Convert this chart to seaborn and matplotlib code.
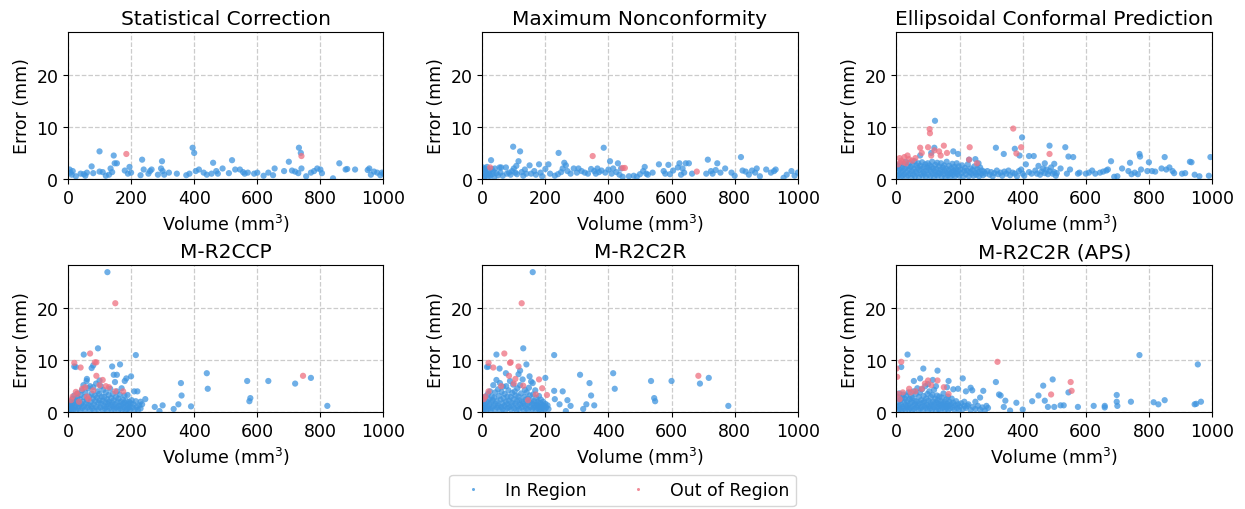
import matplotlib
matplotlib.use("Agg")
import matplotlib.pyplot as plt
import pandas as pd
import seaborn as sns

# ---- data (volume mm^3, error mm) ----
titles = ["Statistical Correction", "Maximum Nonconformity", "Ellipsoidal Conformal Prediction",
          "M-R2CCP", "M-R2C2R", "M-R2C2R (APS)"]

sc_in = [(5, 1.8), (8, 1.2), (12, 0.8), (15, 1.5), (25, 0.5), (40, 1.0), (50, 0.9), (55, 0.6), (60, 1.2),
         (75, 2.4), (80, 1.1), (100, 5.3), (100, 1.4), (110, 1.3), (120, 0.6), (130, 0.8), (135, 2.0),
         (140, 1.3), (145, 4.5), (148, 3.0), (155, 3.0), (180, 1.6), (190, 1.0), (195, 2.3), (200, 1.2),
         (230, 0.7), (235, 3.7), (240, 1.8), (255, 1.0), (260, 1.5), (265, 1.8), (285, 0.8), (295, 2.0),
         (298, 3.4), (300, 1.5), (305, 0.8), (320, 1.2), (345, 1.0), (375, 0.7), (385, 1.0), (395, 6.0),
         (400, 5.0), (405, 1.5), (415, 1.8), (430, 1.2), (440, 0.8), (455, 1.0), (460, 3.1), (470, 1.5),
         (475, 1.0), (490, 2.0), (510, 1.1), (520, 3.6), (530, 1.8), (545, 1.8), (555, 1.3), (560, 1.0),
         (570, 1.2), (590, 1.0), (600, 1.2), (620, 0.6), (635, 1.2), (650, 0.7), (655, 2.0), (685, 1.5),
         (700, 3.3), (710, 1.6), (720, 1.4), (730, 1.1), (732, 6.0), (738, 5.0), (740, 2.0), (755, 0.5),
         (770, 1.2), (780, 1.5), (790, 2.0), (800, 1.8), (805, 1.1), (840, 0.1), (860, 3.0), (880, 1.8),
         (885, 1.9), (910, 1.8), (950, 1.7), (955, 2.0), (960, 0.8), (970, 1.4), (980, 1.2), (990, 0.7),
         (995, 1.2), (1000, 1.0)]
sc_out = [(185, 4.8), (740, 4.4)]

mn_in = [(2, 2.2), (4, 1.0), (5, 0.3), (6, 1.8), (8, 0.5), (10, 2.0), (12, 1.2), (14, 0.8), (15, 2.3),
         (18, 0.4), (20, 1.6), (22, 1.0), (25, 0.6), (28, 3.6), (30, 1.9), (32, 0.9), (35, 1.4), (38, 0.3),
         (40, 2.0), (45, 1.1), (50, 0.7), (55, 2.2), (58, 1.2), (60, 2.2), (65, 0.6), (75, 2.2), (78, 1.0),
         (85, 1.2), (90, 0.8), (95, 1.5), (98, 6.2), (100, 2.0), (105, 1.2), (108, 2.5), (110, 0.9),
         (115, 3.4), (120, 5.3), (125, 1.3), (130, 0.6), (135, 1.8), (140, 1.0), (150, 2.6), (155, 1.0),
         (165, 1.5), (170, 0.8), (180, 2.8), (185, 1.2), (190, 0.5), (200, 1.9), (210, 2.8), (215, 1.0),
         (230, 0.6), (240, 0.9), (242, 5.0), (250, 1.3), (255, 2.0), (260, 3.1), (265, 2.6), (270, 1.5),
         (280, 1.0), (290, 2.0), (300, 1.2), (305, 2.0), (315, 1.5), (325, 1.2), (335, 1.0), (345, 1.9),
         (355, 1.5), (360, 1.0), (365, 2.0), (370, 1.3), (378, 1.6), (385, 6.0), (390, 1.2), (400, 1.8),
         (405, 3.4), (410, 1.0), (415, 2.0), (425, 1.3), (430, 3.0), (435, 0.8), (440, 2.0), (445, 0.4),
         (465, 0.5), (480, 0.6), (490, 0.4), (500, 0.9), (510, 1.5), (515, 2.3), (520, 1.0), (525, 0.8),
         (540, 1.2), (560, 2.8), (575, 1.5), (580, 1.0), (590, 2.7), (595, 0.9), (605, 1.6), (620, 2.2),
         (625, 3.0), (630, 0.8), (635, 2.0), (640, 1.2), (645, 3.0), (655, 3.0), (665, 1.0), (710, 1.0),
         (715, 3.7), (725, 1.5), (730, 1.0), (740, 1.7), (745, 3.0), (755, 1.2), (770, 2.0), (790, 1.2),
         (800, 0.6), (820, 4.2), (825, 1.6), (835, 1.4), (845, 0.8), (855, 1.6), (865, 1.2), (870, 2.0),
         (880, 0.5), (900, 1.8), (915, 1.2), (925, 1.5), (930, 1.8), (955, 0.2), (965, 0.8), (980, 1.5),
         (990, 0.6), (1000, 1.2)]
mn_out = [(25, 2.2), (350, 4.4), (445, 2.1), (452, 2.1), (680, 1.4)]

ecp_in = [(3, 0.5), (5, 1.5), (6, 2.5), (8, 0.8), (10, 1.9), (12, 3.0), (14, 0.3), (15, 1.2), (17, 2.2),
          (19, 0.6), (21, 1.6), (23, 2.8), (25, 0.9), (27, 2.0), (29, 3.3), (31, 0.4), (33, 1.3), (35, 2.4),
          (37, 0.7), (39, 1.8), (41, 3.1), (43, 1.0), (45, 2.3), (47, 0.2), (49, 1.5), (51, 2.7), (53, 0.8),
          (55, 1.9), (57, 3.4), (59, 0.5), (61, 1.4), (63, 2.6), (65, 1.0), (67, 2.1), (69, 3.0), (71, 0.3),
          (73, 1.7), (75, 2.5), (77, 0.9), (79, 1.9), (81, 3.2), (83, 0.6), (85, 1.3), (87, 2.3), (89, 1.0),
          (91, 2.8), (93, 0.4), (95, 1.6), (97, 2.2), (99, 3.0), (101, 0.8), (103, 1.8), (105, 2.6),
          (107, 0.5), (109, 1.4), (111, 2.3), (113, 3.3), (115, 1.0), (117, 2.0), (119, 0.3), (121, 1.5),
          (123, 2.7), (125, 0.8), (127, 1.9), (129, 3.1), (131, 0.6), (133, 1.2), (135, 2.4), (137, 1.0),
          (139, 1.8), (141, 3.0), (143, 0.4), (145, 1.4), (147, 2.2), (149, 0.9), (151, 2.6), (153, 1.5),
          (155, 0.3), (157, 2.0), (159, 3.3), (161, 1.1), (163, 0.7), (165, 1.7), (167, 2.5), (169, 1.0),
          (171, 0.4), (173, 2.0), (175, 1.3), (177, 2.9), (179, 0.8), (181, 1.6), (183, 2.3), (185, 0.5),
          (187, 1.2), (189, 1.9), (191, 3.0), (193, 0.9), (195, 1.5), (197, 2.4), (199, 0.6), (202, 1.8),
          (205, 1.1), (208, 2.6), (211, 0.4), (214, 1.5), (217, 2.1), (220, 0.9), (223, 1.6), (226, 2.8),
          (229, 0.5), (232, 1.3), (235, 2.0), (238, 1.0), (241, 1.7), (244, 0.6), (247, 2.4), (250, 1.2),
          (253, 0.8), (256, 1.9), (259, 1.3), (262, 0.5), (265, 2.2), (268, 1.0), (271, 1.6), (274, 0.7),
          (277, 1.4), (282, 1.0), (288, 1.5), (295, 0.8), (300, 1.3), (305, 0.5), (310, 1.1), (318, 1.6),
          (322, 0.9), (330, 1.2), (335, 0.6), (342, 1.4), (348, 1.0), (355, 1.6), (360, 0.7), (368, 1.2),
          (375, 1.0), (382, 0.5), (388, 1.5), (395, 1.8), (400, 1.0), (405, 0.6), (410, 2.8), (420, 1.3),
          (428, 1.0), (440, 1.6), (445, 1.0), (450, 2.5), (455, 0.8), (460, 1.4), (465, 2.0), (470, 1.1),
          (475, 1.8), (480, 0.9), (485, 1.5), (490, 2.2), (495, 1.0), (500, 1.3), (505, 0.6), (508, 1.1),
          (520, 2.0), (540, 1.0), (550, 1.8), (575, 1.0), (580, 1.2), (600, 1.0), (610, 1.2), (620, 1.6),
          (630, 1.0), (645, 1.2), (655, 1.4), (665, 1.6), (670, 1.8), (690, 0.4), (700, 0.5), (715, 2.0),
          (735, 1.5), (745, 0.9), (755, 1.2), (765, 0.9), (775, 1.8), (795, 1.5), (810, 1.5), (820, 1.4),
          (840, 2.0), (855, 1.8), (865, 2.2), (875, 1.5), (880, 1.1), (905, 1.0), (915, 1.1), (945, 0.8),
          (960, 0.5), (990, 0.6),
          (122, 11.2), (398, 8.0), (120, 6.0), (180, 5.3), (195, 4.8), (110, 5.0), (75, 4.5), (230, 3.7),
          (250, 3.8), (260, 3.0), (315, 6.0), (340, 4.8), (375, 5.8), (390, 4.5), (435, 4.4), (485, 6.4),
          (535, 6.1), (545, 4.3), (560, 4.2), (680, 3.4), (740, 3.1), (770, 4.8), (772, 4.3), (850, 4.2),
          (930, 3.3), (935, 3.2), (995, 4.2), (800, 3.2), (420, 4.4), (470, 3.0), (500, 2.9)]
ecp_out = [(10, 4.0), (5, 2.8), (15, 3.5), (20, 3.2), (25, 4.2), (35, 4.5), (40, 3.8), (50, 3.5), (60, 4.0),
           (75, 6.0), (80, 5.0), (100, 6.1), (105, 9.6), (106, 8.8), (110, 4.5), (120, 5.5), (135, 5.3),
           (140, 4.5), (150, 6.4), (160, 5.0), (230, 3.7), (232, 6.1), (255, 3.0), (370, 9.7), (380, 4.9),
           (395, 6.1), (485, 4.8), (30, 3.0)]

ccp_in = [(2, 0.3), (4, 1.0), (5, 0.6), (7, 1.5), (9, 0.2), (10, 2.0), (12, 0.8), (14, 1.3), (15, 2.6),
          (17, 0.5), (19, 1.8), (20, 3.2), (22, 0.9), (24, 2.2), (25, 0.4), (27, 1.5), (29, 2.8), (30, 3.6),
          (32, 0.7), (34, 1.9), (35, 1.2), (37, 2.5), (39, 0.3), (40, 3.3), (42, 1.6), (44, 4.2), (45, 0.8),
          (47, 2.0), (49, 5.2), (50, 1.1), (52, 2.9), (54, 0.5), (55, 3.8), (57, 1.7), (59, 6.0), (60, 2.4),
          (62, 0.9), (64, 4.6), (65, 1.4), (67, 3.0), (69, 0.4), (70, 5.0), (72, 2.0), (74, 1.1), (75, 3.6),
          (77, 0.7), (79, 2.6), (80, 4.8), (82, 1.5), (84, 0.3), (85, 3.2), (87, 2.1), (89, 5.5), (90, 1.0),
          (92, 2.8), (94, 4.0), (95, 0.6), (97, 1.8), (99, 3.5), (100, 2.3), (102, 0.9), (104, 5.0),
          (105, 1.6), (107, 3.0), (109, 0.4), (110, 2.2), (112, 4.3), (114, 1.2), (115, 2.9), (117, 0.7),
          (119, 1.9), (120, 3.8), (122, 1.0), (124, 2.5), (125, 0.3), (127, 1.6), (129, 3.3), (130, 2.0),
          (132, 0.8), (134, 4.5), (135, 1.4), (137, 2.7), (139, 0.5), (140, 1.8), (142, 3.5), (144, 1.1),
          (145, 2.3), (147, 0.6), (149, 5.8), (150, 1.5), (152, 2.9), (154, 0.9), (155, 4.0), (157, 1.9),
          (159, 0.4), (160, 2.6), (162, 1.2), (164, 3.4), (165, 0.7), (167, 2.0), (169, 1.3), (170, 4.6),
          (172, 0.5), (174, 2.4), (175, 1.6), (177, 0.9), (179, 3.2), (180, 1.8), (182, 0.3), (184, 2.2),
          (185, 1.2), (187, 0.6), (189, 3.3), (190, 1.5), (192, 0.8), (194, 2.0), (195, 1.0), (197, 0.4),
          (199, 1.7), (202, 2.3), (205, 0.9), (208, 1.5), (212, 0.5), (215, 2.1), (218, 1.0), (222, 0.4),
          (226, 1.3), (230, 0.7),
          (125, 27.0), (95, 12.3), (50, 11.1), (215, 11.0), (20, 8.8), (25, 8.7), (80, 9.0), (75, 8.5),
          (140, 8.8), (165, 9.2), (145, 7.2), (155, 7.2), (200, 6.9), (185, 6.5), (180, 6.0), (60, 6.4),
          (100, 6.1), (440, 7.5), (443, 4.5), (358, 5.6), (360, 3.2), (350, 1.5), (335, 0.6), (300, 1.3),
          (275, 1.0), (290, 0.2), (390, 1.1), (568, 6.0), (635, 6.0), (720, 5.5), (770, 6.6), (578, 2.7),
          (575, 2.1), (822, 1.2), (210, 4.0), (220, 4.0), (245, 2.5), (235, 1.5), (230, 2.0)]
ccp_out = [(150, 21.0), (70, 11.3), (20, 9.5), (40, 8.6), (85, 9.6), (90, 9.6), (90, 7.0), (745, 7.0),
           (25, 3.9), (15, 3.0), (45, 4.5), (55, 4.8), (110, 6.2), (120, 5.0), (130, 4.8), (150, 4.0),
           (175, 4.0), (30, 3.5), (60, 3.0), (100, 5.2), (80, 4.2), (65, 2.5), (10, 2.3), (35, 2.0)]

c2r_in = [(1, 0.5), (3, 1.3), (5, 0.2), (6, 2.2), (8, 0.9), (10, 1.6), (11, 3.0), (13, 0.4), (15, 2.0),
          (16, 1.1), (18, 3.5), (20, 0.7), (21, 2.5), (23, 1.4), (25, 4.0), (26, 0.3), (28, 1.9), (30, 3.0),
          (31, 0.8), (33, 2.3), (35, 5.2), (36, 1.2), (38, 2.8), (40, 0.5), (41, 3.8), (43, 1.6), (45, 6.2),
          (46, 2.1), (48, 0.9), (50, 4.4), (51, 1.3), (53, 3.1), (55, 0.4), (56, 5.6), (58, 2.4), (60, 1.0),
          (61, 3.9), (63, 1.7), (65, 0.6), (66, 4.9), (68, 2.7), (70, 1.2), (71, 3.5), (73, 0.3), (75, 2.0),
          (76, 5.0), (78, 1.5), (80, 3.0), (81, 0.8), (83, 4.2), (85, 2.2), (86, 1.0), (88, 6.0), (90, 2.9),
          (91, 0.5), (93, 1.8), (95, 3.7), (96, 1.3), (98, 5.3), (100, 2.5), (101, 0.7), (103, 4.0),
          (105, 1.6), (106, 3.2), (108, 0.4), (110, 2.1), (111, 4.6), (113, 1.1), (115, 3.0), (116, 0.6),
          (118, 2.3), (120, 5.2), (121, 1.4), (123, 3.6), (125, 0.9), (126, 2.0), (128, 6.3), (130, 1.7),
          (131, 0.3), (133, 2.9), (135, 4.3), (136, 1.2), (138, 2.4), (140, 0.7), (141, 3.8), (143, 1.5),
          (145, 2.6), (146, 0.5), (148, 4.7), (150, 1.9), (151, 3.2), (153, 1.0), (155, 5.9), (156, 2.2),
          (158, 0.6), (160, 1.6), (161, 3.4), (163, 0.9), (165, 2.1), (166, 1.3), (168, 4.2), (170, 0.4),
          (171, 2.7), (173, 1.5), (175, 0.8), (176, 2.0), (178, 1.1), (180, 3.1), (181, 0.5), (183, 1.8),
          (185, 1.0), (186, 2.4), (188, 0.3), (190, 1.4), (191, 0.8), (193, 2.0), (195, 1.2), (198, 0.5),
          (200, 1.6), (203, 0.9), (207, 1.3), (210, 0.6),
          (160, 27.0), (130, 12.3), (45, 11.1), (228, 11.0), (15, 8.7), (20, 8.8), (55, 8.4), (140, 9.2),
          (120, 8.0), (115, 7.3), (150, 6.9), (310, 7.2), (415, 7.5), (420, 4.5), (340, 5.6), (345, 3.2),
          (330, 1.5), (320, 0.6), (355, 1.3), (270, 2.3), (280, 1.2), (255, 4.0), (228, 4.1), (230, 2.5),
          (245, 1.5), (200, 6.6), (535, 6.0), (600, 6.0), (690, 5.5), (718, 6.6), (545, 2.7), (548, 2.1),
          (780, 1.2), (265, 0.2), (160, 5.6), (75, 7.5)]
c2r_out = [(125, 21.0), (70, 11.3), (20, 9.5), (35, 8.6), (90, 9.6), (88, 9.5), (85, 7.0), (685, 7.0),
           (180, 6.3), (190, 4.6), (170, 3.4), (205, 3.3), (20, 4.0), (10, 3.0), (5, 2.5), (115, 8.8),
           (105, 6.4), (60, 5.0), (100, 5.5), (130, 5.1), (145, 2.3)]

aps_in = [(1, 1.0), (3, 3.0), (4, 0.4), (6, 2.0), (8, 1.2), (9, 3.6), (11, 0.6), (13, 2.4), (14, 1.5),
          (16, 0.3), (18, 2.8), (19, 1.0), (21, 3.4), (23, 0.7), (24, 1.9), (26, 2.6), (28, 0.4), (29, 1.4),
          (31, 3.2), (33, 0.9), (34, 2.1), (36, 1.2), (38, 3.8), (39, 0.5), (41, 2.5), (43, 1.6), (44, 0.8),
          (46, 3.0), (48, 1.9), (49, 0.3), (51, 2.7), (53, 1.1), (54, 4.0), (56, 0.6), (58, 2.2), (59, 1.5),
          (61, 3.5), (63, 0.9), (64, 2.0), (66, 4.6), (68, 1.3), (69, 0.4), (71, 2.9), (73, 1.7), (74, 3.8),
          (76, 0.7), (78, 2.3), (79, 1.0), (81, 4.4), (83, 1.8), (84, 0.5), (86, 3.1), (88, 2.0), (89, 1.2),
          (91, 5.0), (93, 0.8), (94, 2.6), (96, 1.4), (98, 3.5), (99, 0.3), (101, 2.2), (103, 1.1),
          (104, 4.0), (106, 0.7), (108, 1.8), (109, 2.9), (111, 1.3), (113, 0.5), (114, 3.3), (116, 2.0),
          (118, 0.9), (119, 4.3), (121, 1.5), (123, 2.6), (124, 0.4), (126, 1.9), (128, 3.2), (129, 1.0),
          (131, 2.3), (133, 0.6), (134, 1.6), (136, 3.0), (138, 1.2), (139, 0.3), (141, 2.1), (143, 1.4),
          (144, 2.8), (146, 0.8), (148, 1.7), (149, 3.6), (151, 1.0), (153, 2.0), (154, 0.5), (156, 1.3),
          (158, 2.5), (159, 0.9), (161, 1.6), (163, 3.0), (164, 0.4), (166, 1.2), (168, 2.0), (170, 0.7),
          (172, 1.5), (175, 2.6), (178, 0.9), (180, 1.8), (183, 0.5), (186, 1.3), (189, 2.1), (192, 0.8),
          (195, 1.5), (198, 0.4), (201, 1.1), (205, 1.7), (210, 0.6), (215, 1.2), (220, 0.8), (228, 1.5),
          (235, 0.4), (242, 1.0), (250, 0.6), (258, 1.2), (265, 0.5), (272, 0.9), (280, 0.3), (290, 0.8),
          (35, 11.1), (770, 11.0), (955, 9.2), (15, 8.7), (85, 8.4), (130, 8.0), (55, 6.0), (75, 6.5),
          (100, 5.4), (115, 6.2), (125, 5.0), (210, 6.5), (165, 6.0), (180, 4.4), (195, 4.5), (235, 4.7),
          (240, 4.2), (275, 4.1), (265, 2.8), (250, 2.0), (315, 5.8), (325, 3.4), (330, 3.2), (340, 1.0),
          (345, 2.2), (360, 0.3), (380, 1.8), (400, 0.5), (430, 2.1), (450, 3.2), (465, 5.1), (470, 2.2),
          (495, 6.3), (500, 1.0), (480, 1.0), (520, 1.3), (530, 1.3), (545, 3.8), (575, 1.0), (625, 1.2),
          (660, 1.2), (660, 0.9), (698, 3.3), (698, 2.0), (700, 1.2), (743, 2.0), (815, 1.9), (830, 1.5),
          (850, 2.3), (945, 1.5), (950, 1.6), (965, 2.0), (215, 2.0), (225, 1.2), (285, 1.2), (220, 4.0),
          (160, 4.8)]
aps_out = [(0, 8.4), (2, 6.8), (15, 9.7), (320, 9.7), (552, 5.8), (555, 4.1), (490, 3.4), (20, 3.8),
           (40, 4.5), (45, 3.8), (80, 4.5), (90, 5.5), (100, 6.1), (110, 5.2), (130, 6.1), (150, 4.8),
           (165, 3.5), (5, 3.5), (10, 2.5), (60, 4.0)]

panels = [(sc_in, sc_out), (mn_in, mn_out), (ecp_in, ecp_out),
          (ccp_in, ccp_out), (c2r_in, c2r_out), (aps_in, aps_out)]

palette = {"In Region": "#3f95df", "Out of Region": "#ee7080"}

plt.rcParams["font.family"] = ["DejaVu Sans"]
fig, axes = plt.subplots(2, 3, figsize=(12.45, 5.1), dpi=100)
fig.subplots_adjust(left=0.0546, right=0.9735, top=0.935, bottom=0.19, wspace=0.313, hspace=0.59)

for ax, title, (pts_in, pts_out) in zip(axes.flat, titles, panels):
    df = pd.DataFrame(pts_in + pts_out, columns=["volume", "error"])
    df["region"] = ["In Region"] * len(pts_in) + ["Out of Region"] * len(pts_out)
    sns.scatterplot(data=df, x="volume", y="error", hue="region", palette=palette,
                    s=20, alpha=0.75, linewidth=0, ax=ax, legend=False)
    ax.set_xlim(0, 1000)
    ax.set_ylim(0, 28.3)
    ax.set_xticks([0, 200, 400, 600, 800, 1000])
    ax.set_yticks([0, 10, 20])
    ax.grid(True, linestyle="--", color="#cccccc", linewidth=0.9)
    ax.set_axisbelow(True)
    ax.set_title(title, fontsize=14.5)
    ax.set_xlabel("Volume (mm$^3$)", fontsize=12.5)
    ax.set_ylabel("Error (mm)", fontsize=12.5)
    ax.tick_params(labelsize=12.5)

handles = [plt.Line2D([], [], marker="o", linestyle="", markersize=2.2, alpha=0.8,
                      markerfacecolor=c, markeredgewidth=0) for c in palette.values()]
fig.legend(handles, list(palette.keys()), loc="lower center", ncol=2, fontsize=12.5,
           bbox_to_anchor=(0.5, -0.012), frameon=True)

fig.savefig("out.png", dpi=100)
